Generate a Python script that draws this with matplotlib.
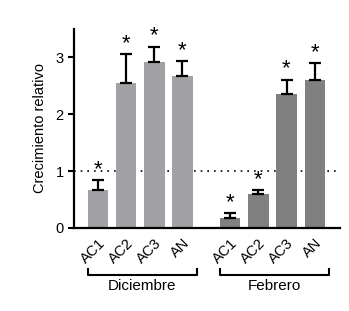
import numpy as np
import matplotlib.pyplot as plt

# Datos
categorias = ["AC1", "AC2", "AC3", "AN"]
grupos = ["Diciembre", "Febrero"]
dic_valores = [0.66, 2.55, 2.92, 2.68]
dic_error = [0.18, 0.51, 0.27, 0.25]
feb_valores = [0.18, 0.59, 2.35, 2.61]
feb_error = [0.08, 0.08, 0.26, 0.29]
colores = ["#a2a2a6", "#808080"]

plt.rcParams["font.family"] = ["Liberation Sans", "DejaVu Sans"]

fig = plt.figure(figsize=(3.49, 3.11), dpi=100)
ax = fig.add_axes([0.212, 0.267, 0.762, 0.64])

ancho = 0.72
pos_dic = np.arange(4)
pos_feb = np.arange(4) + 4.7

for pos, vals, errs, color in [(pos_dic, dic_valores, dic_error, colores[0]),
                               (pos_feb, feb_valores, feb_error, colores[1])]:
    ax.bar(pos, vals, width=ancho, color=color, zorder=2)
    ax.errorbar(pos, vals, yerr=[np.zeros(4), errs], fmt="none",
                ecolor="black", elinewidth=1.6, capsize=4, capthick=1.6, zorder=3)
    for x, v, e in zip(pos, vals, errs):
        ax.text(x, v + e + 0.0, "*", ha="center", va="bottom", fontsize=16,
                zorder=4)

# Línea de referencia en 1
ax.axhline(1, color="black", linestyle=(0, (1, 3)), linewidth=1.2, zorder=1)

ax.set_xlim(-0.86, 8.6)
ax.set_ylim(0, 3.5)
ax.set_yticks([0, 1, 2, 3])
ax.tick_params(axis="y", labelsize=10.5, width=1.5, length=4)
ax.set_ylabel("Crecimiento relativo", fontsize=10.5, labelpad=6)

ax.set_xticks(np.concatenate([pos_dic, pos_feb]))
ax.set_xticklabels(categorias * 2, rotation=45, ha="right", va="top",
                   rotation_mode="anchor", fontsize=10.5)
ax.tick_params(axis="x", length=0, pad=6)

for s in ["top", "right"]:
    ax.spines[s].set_visible(False)
ax.spines["left"].set_linewidth(1.6)
ax.spines["bottom"].set_linewidth(1.6)

# Corchetes de grupo
for pos, nombre in [(pos_dic, grupos[0]), (pos_feb, grupos[1])]:
    x0, x1 = pos[0] - 0.36, pos[-1] + 0.5
    y_low, y_high = -0.83, -0.72
    ax.plot([x0, x0, x1, x1], [y_high, y_low, y_low, y_high], color="black",
            linewidth=1.5, clip_on=False)
    ax.text((x0 + x1) / 2, -0.9, nombre, ha="center", va="top", fontsize=11)

fig.savefig("out.png", dpi=100)
